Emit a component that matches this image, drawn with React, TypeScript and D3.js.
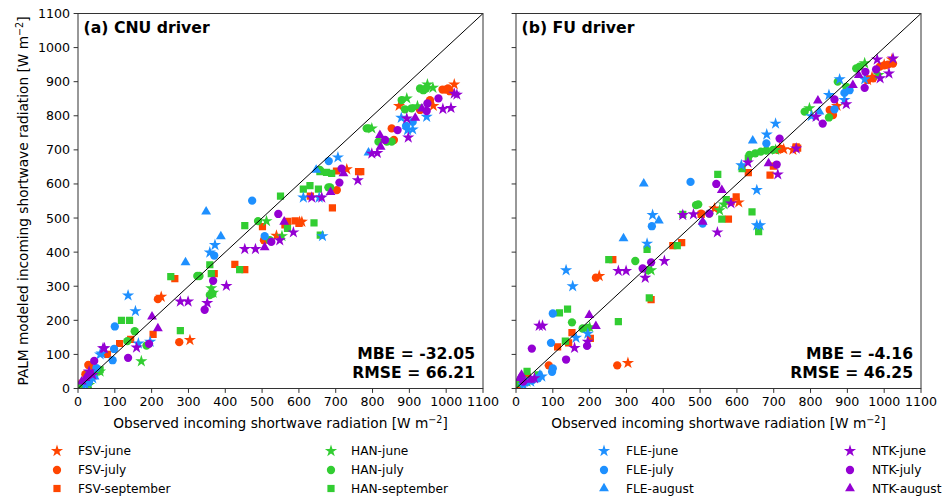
import React from "react";
import * as d3 from "d3";

type P = [number, number];

// ---------- (a) CNU driver ----------
const cnuFsvJune: P[] = [[15, 20], [40, 58], [226, 269], [304, 142], [539, 448], [602, 489], [608, 489], [730, 643], [872, 829], [965, 829], [1022, 892]];
const cnuFsvJuly: P[] = [[10, 15], [28, 69], [20, 42], [217, 262], [275, 136], [505, 435], [703, 582], [852, 763], [858, 729], [929, 817], [956, 846], [990, 877], [999, 877], [1005, 880], [1010, 872]];
const cnuFsvSep: P[] = [[30, 25], [50, 50], [80, 100], [113, 132], [143, 144], [204, 159], [263, 322], [370, 337], [426, 364], [453, 349], [501, 475], [562, 480], [570, 490], [590, 492], [600, 484], [631, 564], [691, 530], [702, 638], [762, 636], [768, 636]];
const cnuHanJune: P[] = [[30, 10], [60, 50], [172, 80], [362, 294], [367, 281], [512, 491], [554, 447], [798, 763], [893, 851], [922, 828], [949, 892], [964, 882]];
const cnuHanJuly: P[] = [[20, 20], [55, 50], [134, 139], [154, 168], [186, 126], [324, 330], [330, 330], [358, 274], [365, 278], [489, 491], [521, 435], [657, 641], [680, 590], [685, 590], [784, 763], [790, 763], [816, 724], [839, 724], [852, 724], [879, 846], [888, 819], [906, 822], [929, 880], [938, 875], [945, 880]];
const cnuHanSep: P[] = [[10, 5], [30, 40], [60, 55], [118, 200], [140, 200], [252, 328], [278, 170], [358, 363], [362, 337], [439, 349], [453, 478], [550, 564], [569, 470], [612, 585], [630, 595], [653, 585], [641, 486], [658, 450], [657, 636], [675, 634], [689, 631]];
const cnuFleJune: P[] = [[20, 10], [40, 30], [60, 100], [64, 103], [136, 273], [156, 227], [164, 132], [196, 137], [358, 399], [372, 421], [612, 560], [655, 560], [664, 447], [706, 678], [878, 794], [895, 758], [909, 760], [947, 797]];
const cnuFleJuly: P[] = [[30, 20], [50, 60], [94, 83], [98, 116], [100, 182], [370, 390], [473, 551], [507, 447], [681, 667], [891, 770], [909, 782]];
const cnuFleAug: P[] = [[25, 15], [45, 35], [292, 370], [348, 519], [388, 446], [647, 641], [789, 692]];
const cnuNtkJune: P[] = [[30, 50], [40, 40], [68, 118], [72, 118], [159, 120], [278, 255], [299, 255], [351, 251], [403, 301], [453, 409], [482, 409], [548, 435], [585, 458], [635, 560], [662, 560], [760, 611], [798, 689], [813, 691], [893, 792], [897, 736], [991, 820], [1013, 823], [1022, 865], [1029, 862]];
const cnuNtkJuly: P[] = [[30, 40], [44, 81], [136, 90], [193, 131], [344, 231], [367, 316], [525, 430], [544, 512], [710, 604], [716, 645], [834, 729], [868, 758], [947, 814], [949, 836], [979, 851]];
const cnuNtkAug: P[] = [[10, 20], [20, 30], [201, 211], [217, 176], [507, 414], [560, 489], [686, 576], [721, 631], [820, 743], [822, 709], [916, 794], [934, 821]];

// ---------- (b) FU driver ----------
const fuFsvJune: P[] = [[20, 20], [226, 330], [304, 75], [539, 528], [605, 546], [716, 705], [727, 702], [752, 700], [872, 829], [955, 905], [967, 913], [1000, 950], [1021, 965]];
const fuFsvJuly: P[] = [[20, 30], [89, 68], [217, 325], [275, 68], [503, 513], [710, 700], [720, 703], [852, 817], [861, 802], [955, 905], [970, 910], [988, 944], [1000, 948], [1010, 950], [1024, 953]];
const fuFsvSep: P[] = [[10, 10], [30, 35], [113, 122], [143, 134], [152, 164], [202, 147], [263, 378], [367, 261], [426, 419], [450, 428], [503, 511], [577, 497], [584, 548], [598, 562], [631, 633], [690, 626], [699, 652], [761, 709], [765, 705]];
const fuHanJune: P[] = [[30, 20], [200, 180], [367, 347], [553, 523], [565, 540], [705, 700], [797, 822], [947, 954], [985, 920]];
const fuHanJuly: P[] = [[20, 25], [152, 194], [181, 176], [195, 178], [324, 374], [358, 347], [489, 538], [495, 540], [525, 513], [634, 685], [650, 690], [665, 695], [680, 698], [698, 700], [784, 812], [850, 795], [874, 900], [897, 885], [924, 939], [933, 944]];
const fuHanSep: P[] = [[10, 15], [30, 50], [60, 40], [118, 222], [134, 139], [140, 233], [252, 378], [278, 196], [356, 408], [362, 266], [438, 419], [453, 511], [548, 628], [559, 497], [571, 554], [614, 645], [631, 675], [641, 518], [659, 460]];
const fuFleJune: P[] = [[20, 10], [40, 20], [70, 35], [136, 347], [154, 300], [163, 149], [195, 161], [356, 425], [371, 509], [612, 655], [654, 582], [654, 479], [663, 479], [681, 745], [705, 777], [802, 799], [850, 861], [879, 907], [892, 846], [947, 907]];
const fuFleJuly: P[] = [[30, 20], [45, 25], [60, 30], [95, 134], [98, 49], [100, 59], [100, 220], [369, 476], [474, 606], [507, 484], [680, 719], [865, 819], [892, 867], [906, 875]];
const fuFleAug: P[] = [[20, 15], [65, 40], [292, 440], [347, 601], [388, 492], [643, 727], [824, 812]];
const fuNtkJune: P[] = [[50, 30], [63, 184], [72, 184], [159, 119], [195, 137], [278, 345], [299, 345], [351, 325], [403, 374], [453, 509], [482, 511], [547, 458], [584, 543], [630, 663], [711, 628], [761, 704], [815, 797], [897, 834], [981, 965], [989, 910], [1013, 924], [1024, 968]];
const fuNtkJuly: P[] = [[20, 20], [43, 117], [136, 85], [193, 125], [344, 352], [367, 370], [525, 513], [544, 600], [708, 657], [716, 733], [833, 777], [865, 848], [947, 882], [949, 929], [978, 936]];
const fuNtkAug: P[] = [[10, 30], [15, 40], [40, 25], [199, 215], [217, 183], [507, 489], [559, 582], [686, 660], [820, 844], [915, 890], [931, 919]];

const xTicks = [0, 100, 200, 300, 400, 500, 600, 700, 800, 900, 1000, 1100];
const yTicks = [0, 100, 200, 300, 400, 500, 600, 700, 800, 900, 1000, 1100];

const siteColors: Record<string, string> = {
  FSV: "#FF4500",
  HAN: "#32CD32",
  FLE: "#1E90FF",
  NTK: "#9400D3",
};

const monthSymbols: Record<string, d3.SymbolType> = {
  june: d3.symbolStar,
  july: d3.symbolCircle,
  september: d3.symbolSquare,
  august: d3.symbolTriangle,
};
const monthSizes: Record<string, number> = { june: 46, july: 54, september: 52, august: 42 };

type Series = { site: string; month: string; a: P[]; b: P[] };
const seriesList: Series[] = [
  { site: "FSV", month: "june", a: cnuFsvJune, b: fuFsvJune },
  { site: "FSV", month: "july", a: cnuFsvJuly, b: fuFsvJuly },
  { site: "FSV", month: "september", a: cnuFsvSep, b: fuFsvSep },
  { site: "HAN", month: "june", a: cnuHanJune, b: fuHanJune },
  { site: "HAN", month: "july", a: cnuHanJuly, b: fuHanJuly },
  { site: "HAN", month: "september", a: cnuHanSep, b: fuHanSep },
  { site: "FLE", month: "june", a: cnuFleJune, b: fuFleJune },
  { site: "FLE", month: "july", a: cnuFleJuly, b: fuFleJuly },
  { site: "FLE", month: "august", a: cnuFleAug, b: fuFleAug },
  { site: "NTK", month: "june", a: cnuNtkJune, b: fuNtkJune },
  { site: "NTK", month: "july", a: cnuNtkJuly, b: fuNtkJuly },
  { site: "NTK", month: "august", a: cnuNtkAug, b: fuNtkAug },
];

const panels = [
  { key: "a", title: "(a) CNU driver", mbe: "MBE = -32.05", rmse: "RMSE = 66.21", left: 78, showY: true },
  { key: "b", title: "(b) FU driver", mbe: "MBE = -4.16", rmse: "RMSE = 46.25", left: 516, showY: false },
];

const FONT = "DejaVu Sans, sans-serif";
const PW = 405;
const TOP = 13.5;
const BOTTOM = 388.5;

const symPath = (month: string) => d3.symbol(monthSymbols[month], monthSizes[month])() as string;

function Panel({ p }: { p: (typeof panels)[number] }) {
  const x = d3.scaleLinear().domain([0, 1100]).range([p.left, p.left + PW]);
  const y = d3.scaleLinear().domain([0, 1100]).range([BOTTOM, TOP]);
  const clipId = `clip-${p.key}`;
  const cx = p.left + PW / 2;
  return (
    <g>
      <defs>
        <clipPath id={clipId}>
          <rect x={p.left} y={TOP} width={PW} height={BOTTOM - TOP} />
        </clipPath>
      </defs>
      <g clipPath={`url(#${clipId})`}>
        {seriesList.map((s) =>
          (p.key === "a" ? s.a : s.b).map((d, i) => (
            <path
              key={`${s.site}-${s.month}-${i}`}
              d={symPath(s.month)}
              transform={`translate(${x(d[0])},${y(d[1])})`}
              fill={siteColors[s.site]}
            />
          ))
        )}
        <line x1={x(0)} y1={y(0)} x2={x(1100)} y2={y(1100)} stroke="#000" strokeWidth={1} />
      </g>
      <rect x={p.left} y={TOP} width={PW} height={BOTTOM - TOP} fill="none" stroke="#333" strokeWidth={1} />
      {xTicks.map((t) => (
        <g key={`xt${t}`}>
          <line x1={x(t)} x2={x(t)} y1={BOTTOM} y2={BOTTOM + 4.4} stroke="#333" />
          <text x={x(t)} y={405.5} textAnchor="middle" fontFamily={FONT} fontSize={12.6} fill="#000">
            {t}
          </text>
        </g>
      ))}
      {yTicks.map((t) => (
        <g key={`yt${t}`}>
          <line x1={p.left - 4.4} x2={p.left} y1={y(t)} y2={y(t)} stroke="#333" />
          {p.showY && (
            <text x={p.left - 8} y={y(t) + 4.5} textAnchor="end" fontFamily={FONT} fontSize={12.6} fill="#000">
              {t}
            </text>
          )}
        </g>
      ))}
      <text x={p.left + 5.5} y={33} fontFamily={FONT} fontSize={15.7} fontWeight="bold" fill="#000">
        {p.title}
      </text>
      <text x={p.left + PW - 8} y={359} textAnchor="end" fontFamily={FONT} fontSize={15.6} fontWeight="bold" fill="#000">
        {p.mbe}
      </text>
      <text x={p.left + PW - 8} y={377.5} textAnchor="end" fontFamily={FONT} fontSize={15.6} fontWeight="bold" fill="#000">
        {p.rmse}
      </text>
      <text x={cx} y={428} textAnchor="middle" fontFamily={FONT} fontSize={13.7} fill="#000">
        Observed incoming shortwave radiation [W m
        <tspan fontSize={9.6} dy={-5.5}>−2</tspan>
        <tspan dy={5.5}>]</tspan>
      </text>
    </g>
  );
}

const legendCols = [
  { site: "FSV", months: ["june", "july", "september"], mx: 57, tx: 78 },
  { site: "HAN", months: ["june", "july", "september"], mx: 331, tx: 351 },
  { site: "FLE", months: ["june", "july", "august"], mx: 604, tx: 626 },
  { site: "NTK", months: ["june", "july", "august"], mx: 850, tx: 872 },
];
const legendRows = [451, 470, 488.5];

export default function App() {
  return (
    <div style={{ position: "fixed", left: 0, top: 0 }}>
      <svg width={947} height={498} style={{ display: "block", background: "#fff" }}>
        <rect width={947} height={498} fill="#fff" />
        {panels.map((p) => (
          <Panel key={p.key} p={p} />
        ))}
        <text
          transform={`translate(28,${(TOP + BOTTOM) / 2}) rotate(-90)`}
          textAnchor="middle"
          fontFamily={FONT}
          fontSize={13.7}
          fill="#000"
        >
          PALM modeled incoming shortwave radiation [W m
          <tspan fontSize={9.6} dy={-5.5}>−2</tspan>
          <tspan dy={5.5}>]</tspan>
        </text>
        {legendCols.map((c) =>
          c.months.map((m, i) => (
            <g key={`${c.site}-${m}`}>
              <path d={symPath(m)} transform={`translate(${c.mx},${legendRows[i]})`} fill={siteColors[c.site]} />
              <text x={c.tx} y={legendRows[i] + 4.4} fontFamily={FONT} fontSize={12.2} fill="#000">
                {`${c.site}-${m}`}
              </text>
            </g>
          ))
        )}
      </svg>
    </div>
  );
}
